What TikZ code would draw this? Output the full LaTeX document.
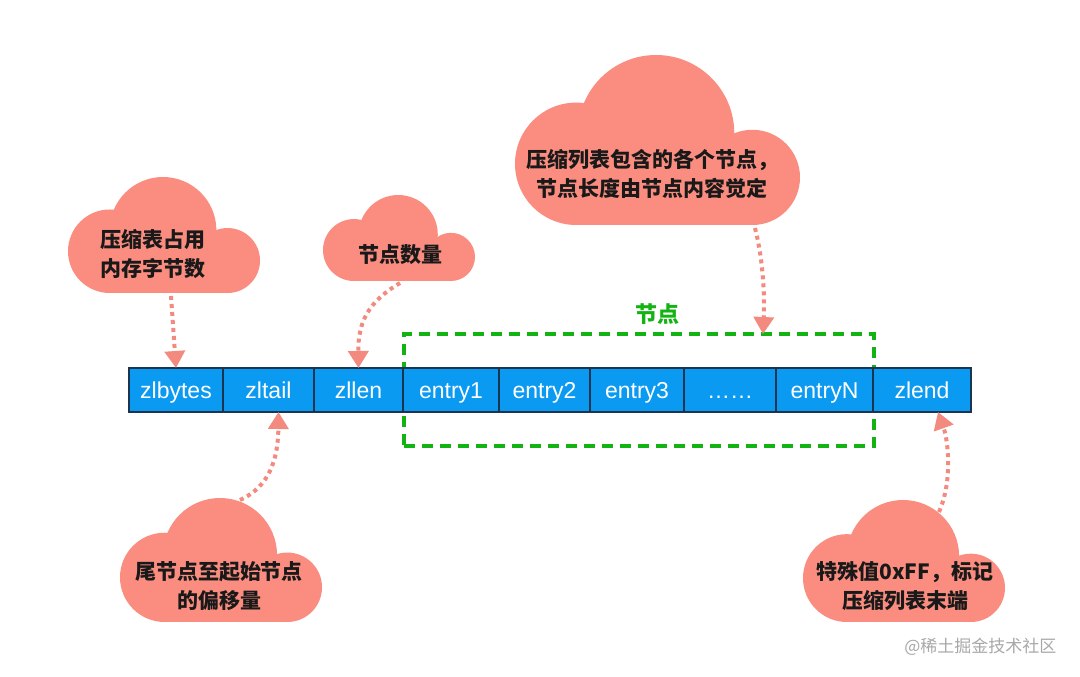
\documentclass[tikz,border=0pt]{standalone}
\usepackage{fontspec}
\usetikzlibrary{arrows.meta}
\setmainfont{Liberation Sans}
\newfontfamily\cjk{Noto Sans CJK SC}
\definecolor{cellblue}{HTML}{0A9AF2}
\definecolor{cellline}{HTML}{1B3550}
\definecolor{cloudfill}{HTML}{FA8D80}
\definecolor{arrowcol}{HTML}{F38A80}
\definecolor{grpgreen}{HTML}{14B314}
\definecolor{wmgray}{HTML}{A8A8A8}
\newcommand{\drawcloud}[4]{%
 \pgfmathsetmacro{\cldh}{#4-#2}%
 \pgfmathsetmacro{\cldw}{#3-#1}%
 \pgfmathsetmacro{\cldl}{0.36*\cldh}%
 \pgfmathsetmacro{\cldr}{0.28*\cldh}%
 \pgfmathsetmacro{\cldb}{0.46*\cldh}%
 \pgfmathsetmacro{\cldx}{#1+0.495*\cldw}%
 \fill[cloudfill] ({#1+\cldl},{#4-\cldl}) circle[radius=\cldl pt];
 \fill[cloudfill] ({#3-\cldr},{#4-\cldr}) circle[radius=\cldr pt];
 \fill[cloudfill] (\cldx,{#2+\cldb}) circle[radius=\cldb pt];
 \fill[cloudfill] ({#1+\cldl},#4) rectangle ({#3-\cldr},{#4-\cldl});
}
\tikzset{
 cell/.style={draw=cellline, line width=1.2pt, fill=cellblue, text=white,
   minimum height=44pt, inner sep=0pt, outer sep=0pt,
   text height=19pt, text depth=2pt,
   font=\fontsize{23}{26}\selectfont},
 cloudtext/.style={align=center, text=black!90, inner sep=0pt,
   font=\cjk\bfseries\fontsize{21}{29}\selectfont},
 pointer/.style={draw=arrowcol, line width=4pt, dash pattern=on 4pt off 4pt,
   -{Triangle[width=20pt,length=17pt,fill=arrowcol]}},
 grpbox/.style={draw=grpgreen, line width=4pt, dash pattern=on 11pt off 7pt,
   minimum width=470pt, minimum height=112pt, inner sep=0pt, outer sep=0pt}
}
\begin{document}
\begin{tikzpicture}[x=1pt,y=-1pt]
\useasboundingbox[fill=white] (0,0) rectangle (1080,677);

% clouds
\drawcloud{68}{177}{260}{293}
\drawcloud{323}{195}{475}{281}
\drawcloud{515}{55}{800}{225}
\drawcloud{120}{498}{322}{622}
\drawcloud{803}{500}{1005}{622}

\node[cloudtext] (t1) at (153,254) {压缩表占用\\内存字节数};
\node[cloudtext] (t2) at (400,255) {节点数量};
\node[cloudtext] (t3) at (652,174) {压缩列表包含的各个节点，\\节点长度由节点内容觉定};
\node[cloudtext] (t4) at (219,586) {尾节点至起始节点\\的偏移量};
\node[cloudtext] (t5) at (905,586) {特殊值0xFF，标记\\压缩列表末端};

% group box
\node[grpbox] (grp) at (639,390) {};
\node[text=grpgreen, font=\cjk\bfseries\fontsize{22}{26}\selectfont] (grplbl) at (657,314) {节点};

% cells
\node[cell, minimum width=94pt] (b1) at (176,390) {zlbytes};
\node[cell, minimum width=91pt] (b2) at (268.5,390) {zltail};
\node[cell, minimum width=89pt] (b3) at (358.5,390) {zllen};
\node[cell, minimum width=96pt] (b4) at (451,390) {entry1};
\node[cell, minimum width=91pt] (b5) at (544.5,390) {entry2};
\node[cell, minimum width=94pt] (b6) at (637,390) {entry3};
\node[cell, minimum width=92pt] (b7) at (730,390) {……};
\node[cell, minimum width=97pt] (b8) at (824.5,390) {entryN};
\node[cell, minimum width=98pt] (b9) at (922,390) {zlend};

% connector anchors
\coordinate (s1) at (171,296);
\coordinate (s2) at (400,283);
\coordinate (s3) at (755,228);
\coordinate (s4) at (240,500);
\coordinate (s5) at (939,512);
\coordinate (e3) at (grp.north -| 763,0);

\draw[pointer] (s1) -- (b1.north);
\draw[pointer] (s2) .. controls (368,302) and (358,322) .. (b3.north);
\draw[pointer] (s3) .. controls (762,255) and (765,290) .. (e3);
\draw[pointer] (s4) .. controls (262,490) and (278,470) .. ([xshift=10pt]b2.south);
\draw[pointer] (s5) .. controls (953,480) and (948,440) .. ([xshift=16pt]b9.south);

% watermark
\node[text=wmgray, font=\cjk\fontsize{17}{20}\selectfont, anchor=east] (wm) at (1060,647) {@稀土掘金技术社区};
\end{tikzpicture}
\end{document}
